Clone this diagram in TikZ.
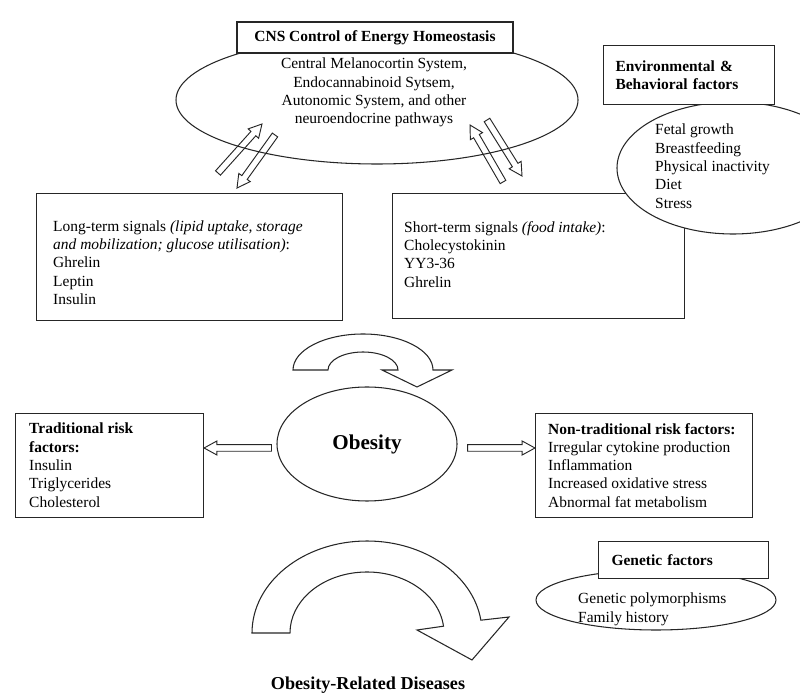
\documentclass[tikz,border=0pt]{standalone}
\usepackage{fontspec}
\setmainfont{Liberation Serif}
\usetikzlibrary{arrows.meta,positioning,shapes.geometric,calc}
\newcommand{\diagfont}{\fontsize{13.2}{15.6}\selectfont}

\begin{document}
\begin{tikzpicture}[
  x=0.03cm, y=0.03cm,
  box/.style={draw=black!85, fill=white, line width=0.9pt, inner sep=0pt, font=\diagfont},
  oval/.style={ellipse, draw=black!85, fill=white, line width=0.9pt, inner sep=0pt, font=\diagfont},
  txt/.style={align=left, inner sep=0pt, anchor=north west, font=\diagfont},
  bentarr/.style={draw=black!85, fill=white, line width=0.9pt, line join=miter},
  blockarr/.style={draw=black!85, line width=0.8pt, line join=miter,
    to path={let \p1=(\tikztostart), \p2=(\tikztotarget),
      \n1={atan2(\y2-\y1,\x2-\x1)} in
      ($(\p1)+({\n1+90}:2.8pt)$) -- ($(\p2)+({\n1+180}:11pt)+({\n1+90}:2.8pt)$)
      -- ($(\p2)+({\n1+180}:11pt)+({\n1+90}:6pt)$) -- (\p2)
      -- ($(\p2)+({\n1+180}:11pt)+({\n1-90}:6pt)$)
      -- ($(\p2)+({\n1+180}:11pt)+({\n1-90}:2.8pt)$)
      -- ($(\p1)+({\n1-90}:2.8pt)$) -- cycle}}
]
\useasboundingbox (0,0) rectangle (800,693);
\clip (0,0) rectangle (800,693);

% CNS
\node[oval, minimum width=12.06cm, minimum height=3.84cm] (cns) at (377,593) {};
\node[txt, anchor=north, align=center] (cnstxt) at (374,635) {Central Melanocortin System,\\Endocannabinoid Sytsem,\\Autonomic System, and other\\neuroendocrine pathways};
\node[box, minimum width=8.28cm, minimum height=0.93cm, font=\diagfont\bfseries] (cnsbox) at (375,655.5) {CNS Control of Energy Homeostasis};

% signals
\node[box, anchor=north west, minimum width=9.18cm, minimum height=3.81cm] (long) at (36,500) {};
\node[txt] (longtxt) at (53,472.7) {Long-term signals \textit{(lipid uptake, storage}\\\textit{and mobilization; glucose utilisation)}:\\Ghrelin\\Leptin\\Insulin};
\node[box, anchor=north west, minimum width=8.76cm, minimum height=3.75cm] (short) at (392,500) {};
\node[txt] (shorttxt) at (404,471.7) {Short-term signals \textit{(food intake)}:\\Cholecystokinin\\YY3-36\\Ghrelin};

% environment
\node[oval, minimum width=6.96cm, minimum height=3.96cm] (env) at (733,525) {};
\node[txt] (envtxt) at (655,569) {Fetal growth\\Breastfeeding\\Physical inactivity\\Diet\\Stress};
\node[box, anchor=north west, minimum width=5.13cm, minimum height=1.77cm, align=left,
      text width=4.41cm, font=\diagfont\bfseries] (envbox) at (603,648) {Environmental \&\\Behavioral factors};

\coordinate (l1a) at (218,520); \coordinate (l1b) at (262,569);
\coordinate (l2a) at (275,558); \coordinate (l2b) at (237,505);
\coordinate (r1a) at (503,511); \coordinate (r1b) at (470,568);
\coordinate (r2a) at (487,573); \coordinate (r2b) at (522,517);
\draw[blockarr] (l1a) to (l1b);
\draw[blockarr] (l2a) to (l2b);
\draw[blockarr] (r1a) to (r1b);
\draw[blockarr] (r2a) to (r2b);

% obesity
\draw[bentarr] (293,323) arc[start angle=180, end angle=0, x radius=70, y radius=36]
  -- (452,323) -- (417,306) -- (382,323) -- (398,323)
  arc[start angle=0, end angle=180, x radius=35, y radius=18] -- cycle;
\node[oval, minimum width=5.4cm, minimum height=3.42cm, font=\fontsize{18}{20}\selectfont\bfseries] (ob) at (367,249) {Obesity};
\node[box, anchor=north west, minimum width=5.64cm, minimum height=3.12cm] (trad) at (15,280) {};
\node[txt] (tradtxt) at (29,270) {\textbf{Traditional risk}\\\textbf{factors:}\\Insulin\\Triglycerides\\Cholesterol};
\node[box, anchor=north west, minimum width=6.51cm, minimum height=3.12cm] (ntrad) at (535,280) {};
\node[txt] (ntradtxt) at (548,270) {\textbf{Non-traditional risk factors:}\\Irregular cytokine production\\Inflammation\\Increased oxidative stress\\Abnormal fat metabolism};

\coordinate (obl) at ([shift={(-5,-4)}]ob.west);
\coordinate (obr) at ([shift={(10,-4)}]ob.east);
\coordinate (trr) at (trad.east |- obl);
\coordinate (ntl) at (ntrad.west |- obr);
\draw[blockarr] (obl) to (trr);
\draw[blockarr] (obr) to (ntl);

% genetic
\node[oval, minimum width=7.2cm, minimum height=1.8cm] (gen) at (656,93) {};
\node[txt] (gentxt) at (578,100) {Genetic polymorphisms\\Family history};
\node[box, anchor=north west, minimum width=5.1cm, minimum height=1.11cm, align=left,
      text width=4.32cm, font=\diagfont\bfseries] (genbox) at (598,152) {Genetic factors};

% diseases
\draw[bentarr] (252,60) arc[start angle=180, end angle=8, x radius=115, y radius=92]
  -- (509,76) -- (472,33) -- (417,63) -- (443.5,66.8)
  arc[start angle=6.4, end angle=180, x radius=77, y radius=61] -- cycle;
\node[font=\fontsize{15.5}{18}\selectfont\bfseries, inner sep=0pt] (ord) at (368,8) {Obesity-Related Diseases};
\end{tikzpicture}
\end{document}
